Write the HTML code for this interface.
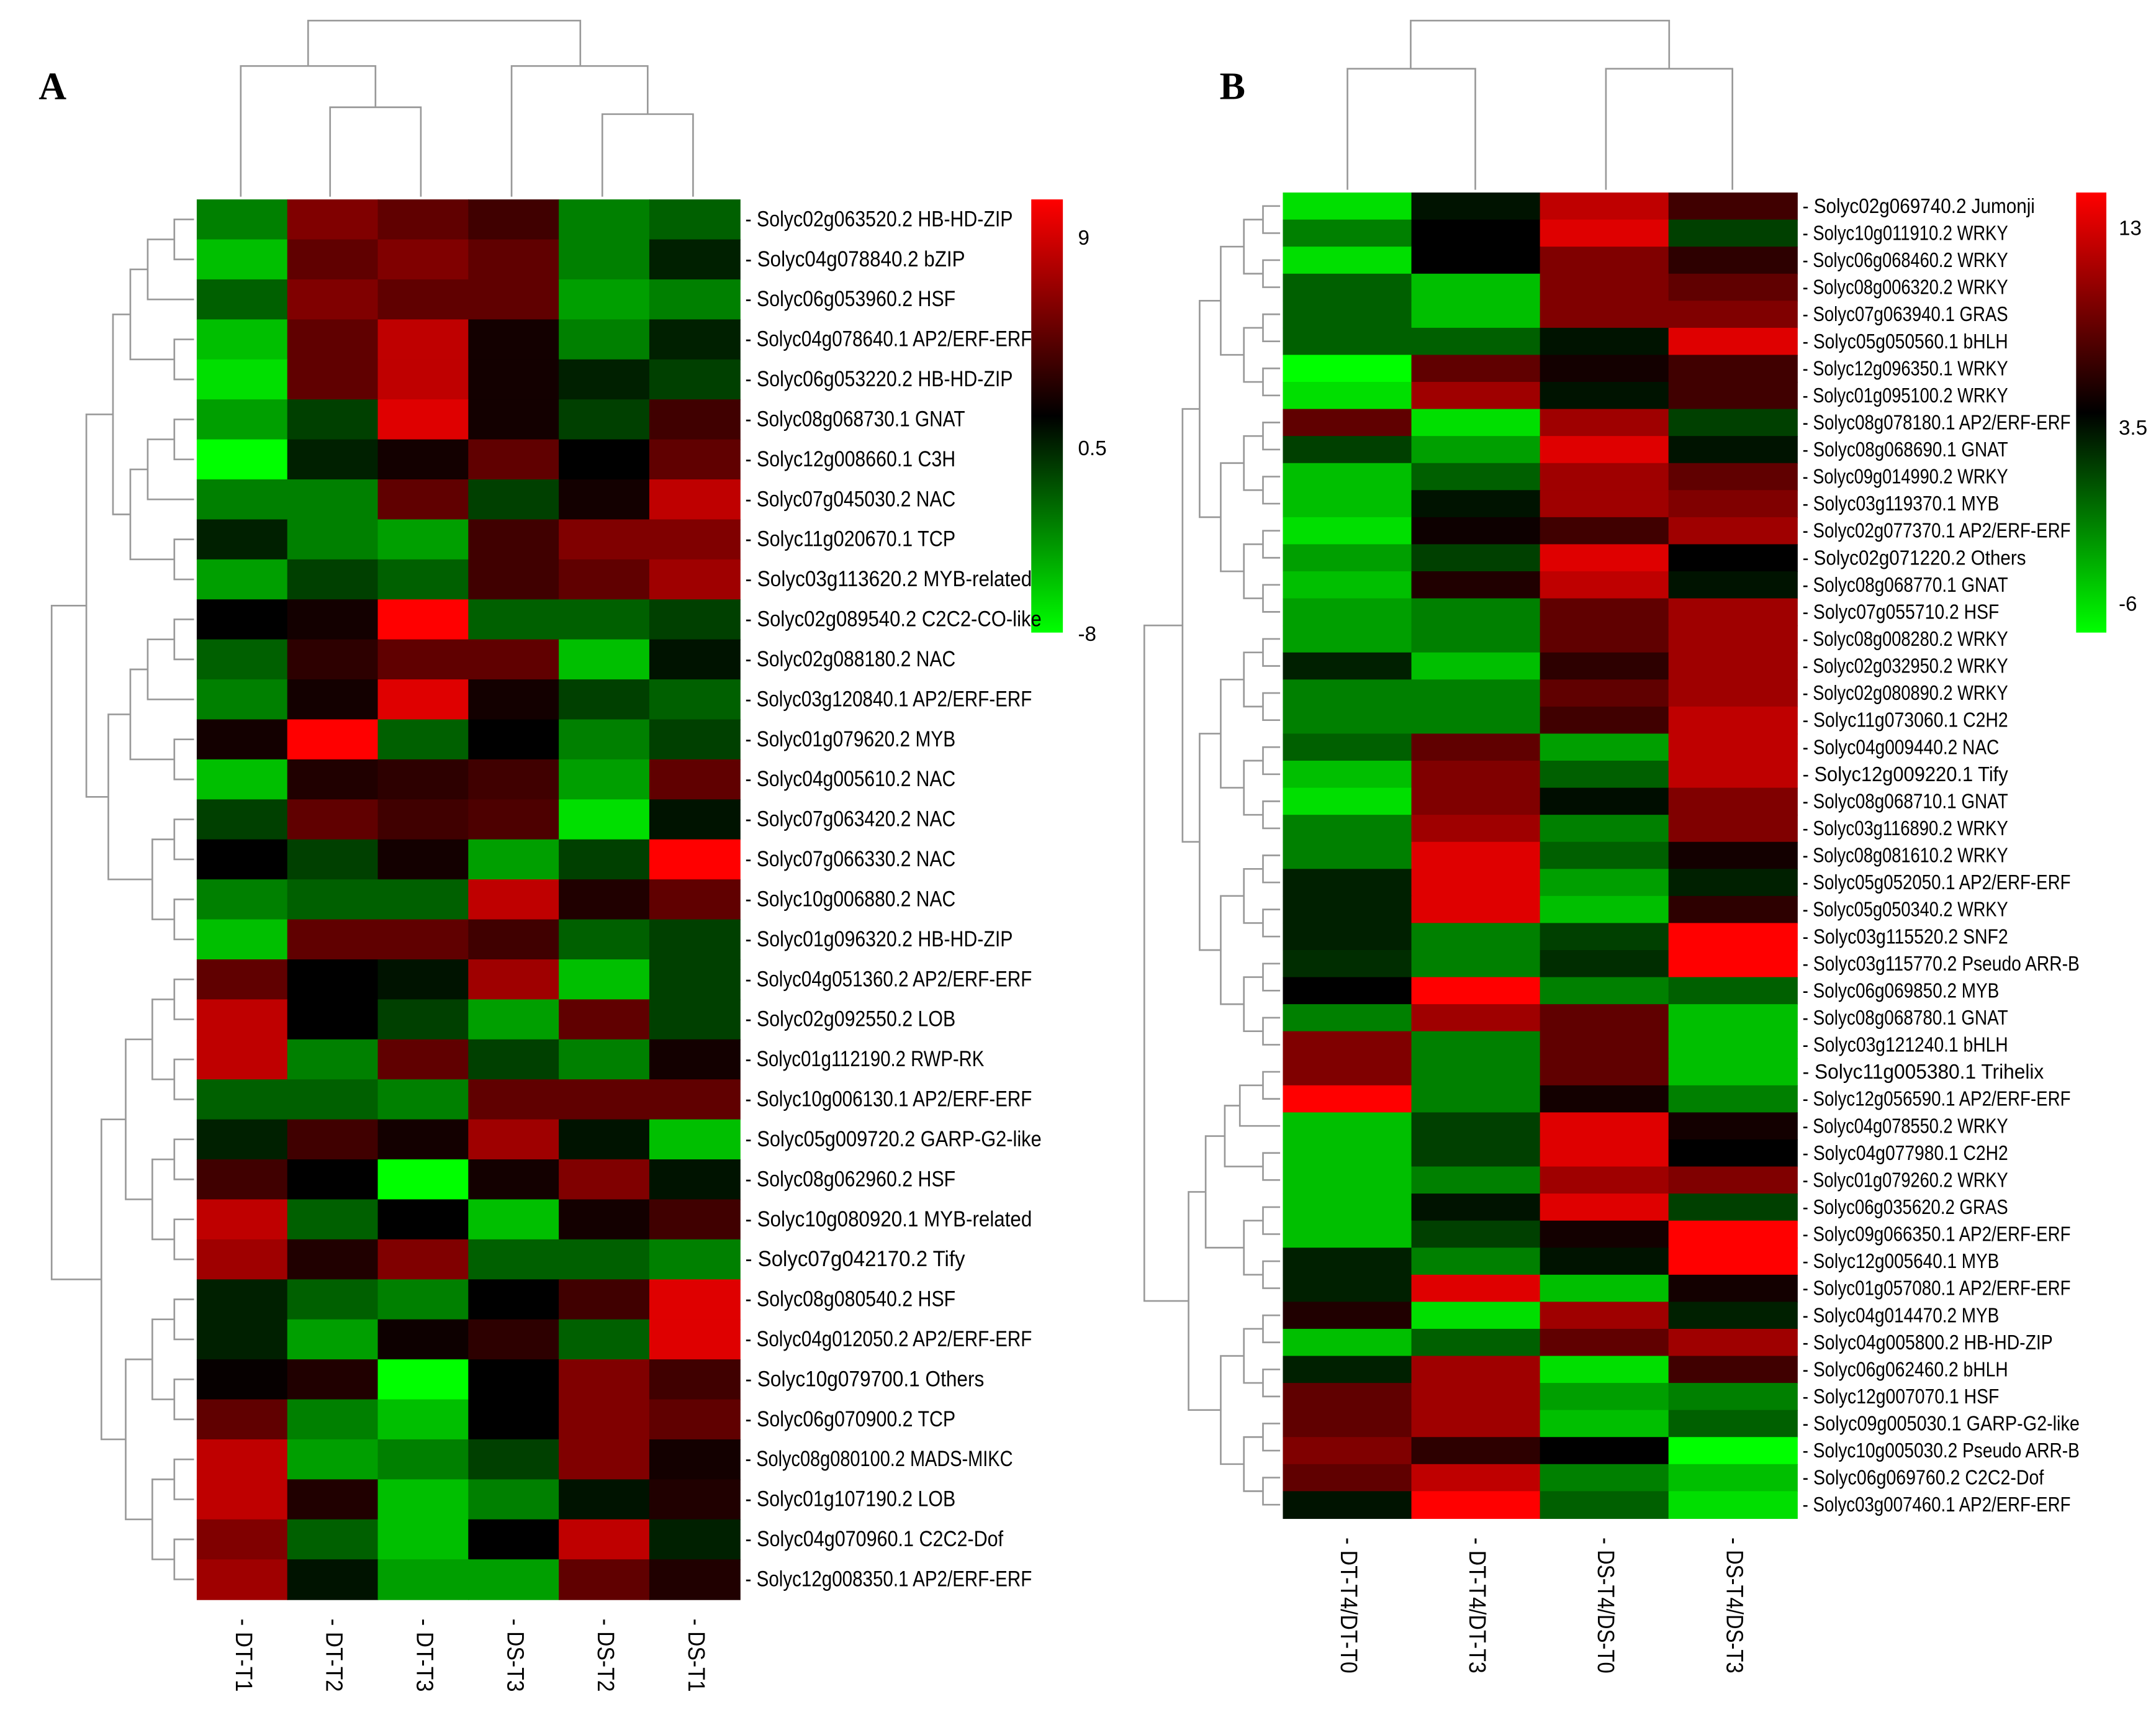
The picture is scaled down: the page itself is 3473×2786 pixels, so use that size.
<!DOCTYPE html>
<html><head><meta charset="utf-8"><style>
html,body{margin:0;padding:0;background:#fff;}
svg{display:block}
text{font-family:"Liberation Sans Narrow","Liberation Sans",sans-serif;}
</style></head><body>
<svg id="fig" xmlns="http://www.w3.org/2000/svg" width="3473" height="2786" viewBox="0 0 1568 1258">
<rect width="1568" height="1258" fill="#fff"/>
<text x="28" y="72" font-weight="bold" font-size="28" style="font-family:'Liberation Serif',serif">A</text>
<text x="887" y="72" font-weight="bold" font-size="28" style="font-family:'Liberation Serif',serif">B</text>
<defs>
<linearGradient id="gA" x1="0" y1="0" x2="0" y2="1"><stop offset="0" stop-color="#ff0000"/><stop offset="0.5" stop-color="#000"/><stop offset="1" stop-color="#00ff00"/></linearGradient>
</defs>
<rect x="750" y="145" width="23" height="315" fill="url(#gA)"/>
<text x="784" y="178" font-size="15">9</text>
<text x="784" y="331" font-size="15">0.5</text>
<text x="784" y="466" font-size="15">-8</text>
<rect x="1510" y="140" width="22" height="320" fill="url(#gA)"/>
<text x="1541" y="171" font-size="15">13</text>
<text x="1541" y="316" font-size="15">3.5</text>
<text x="1541" y="444" font-size="15">-6</text>
<g id="layer"></g>
</svg>
<script>
const colsA=["DT-T1","DT-T2","DT-T3","DS-T3","DS-T2","DS-T1"];
const rowsA=["Solyc02g063520.2 HB-HD-ZIP","Solyc04g078840.2 bZIP","Solyc06g053960.2 HSF","Solyc04g078640.1 AP2/ERF-ERF","Solyc06g053220.2 HB-HD-ZIP","Solyc08g068730.1 GNAT","Solyc12g008660.1 C3H","Solyc07g045030.2 NAC","Solyc11g020670.1 TCP","Solyc03g113620.2 MYB-related","Solyc02g089540.2 C2C2-CO-like","Solyc02g088180.2 NAC","Solyc03g120840.1 AP2/ERF-ERF","Solyc01g079620.2 MYB","Solyc04g005610.2 NAC","Solyc07g063420.2 NAC","Solyc07g066330.2 NAC","Solyc10g006880.2 NAC","Solyc01g096320.2 HB-HD-ZIP","Solyc04g051360.2 AP2/ERF-ERF","Solyc02g092550.2 LOB","Solyc01g112190.2 RWP-RK","Solyc10g006130.1 AP2/ERF-ERF","Solyc05g009720.2 GARP-G2-like","Solyc08g062960.2 HSF","Solyc10g080920.1 MYB-related","Solyc07g042170.2 Tify","Solyc08g080540.2 HSF","Solyc04g012050.2 AP2/ERF-ERF","Solyc10g079700.1 Others","Solyc06g070900.2 TCP","Solyc08g080100.2 MADS-MIKC","Solyc01g107190.2 LOB","Solyc04g070960.1 C2C2-Dof","Solyc12g008350.1 AP2/ERF-ERF"];
const valsA=[[-2,2,1.5,1,-2,-1.5],[-3,1.5,2,1.5,-2,-0.5],[-1.5,2,1.5,1.5,-2.5,-2],[-3,1.5,3,0.3,-2,-0.5],[-3.5,1.5,3,0.3,-0.5,-1],[-2.5,-1,3.5,0.3,-1,1],[-4,-0.5,0.3,1.5,0,1.5],[-2,-2,1.5,-1,0.3,3],[-0.5,-2,-2.5,1,2,2],[-2.5,-1,-1.5,1,1.5,2.5],[0,0.3,4,-1.5,-1.5,-1],[-1.5,0.7,1.5,1.5,-3,-0.3],[-2,0.3,3.5,0.3,-1,-1.5],[0.3,4,-1.5,0,-2,-1],[-3,0.5,0.7,1,-2.5,1.5],[-1,1.5,1,1.2,-3.5,-0.3],[0,-1,0.3,-2.5,-1,4],[-2,-1.5,-1.5,3,0.5,1.5],[-3,1.5,1.5,1,-1.5,-1],[1.5,0,-0.3,2.5,-3,-1],[3,0,-1,-2.5,1.5,-1],[3,-2,1.5,-1,-2,0.3],[-1.5,-1.5,-2,1.5,1.5,1.5],[-0.5,1,0.3,2.5,-0.3,-3],[1,0,-4,0.3,2,-0.3],[3,-1.5,0,-3,0.3,1],[2.5,0.5,2,-1.5,-1.5,-2],[-0.5,-1.5,-2,0,1,3.5],[-0.5,-2.5,0.2,0.7,-1.5,3.5],[0.1,0.5,-4,0,2,1],[1.5,-2,-3,0,2,1.5],[3,-2.5,-2,-1,2,0.3],[3,0.5,-3,-2,-0.3,0.5],[2,-1.5,-3,0,3,-0.5],[2.5,-0.3,-2.5,-2.5,1.5,0.5]];
const colsB=["DT-T4/DT-T0","DT-T4/DT-T3","DS-T4/DS-T0","DS-T4/DS-T3"];
const rowsB=["Solyc02g069740.2 Jumonji","Solyc10g011910.2 WRKY","Solyc06g068460.2 WRKY","Solyc08g006320.2 WRKY","Solyc07g063940.1 GRAS","Solyc05g050560.1 bHLH","Solyc12g096350.1 WRKY","Solyc01g095100.2 WRKY","Solyc08g078180.1 AP2/ERF-ERF","Solyc08g068690.1 GNAT","Solyc09g014990.2 WRKY","Solyc03g119370.1 MYB","Solyc02g077370.1 AP2/ERF-ERF","Solyc02g071220.2 Others","Solyc08g068770.1 GNAT","Solyc07g055710.2 HSF","Solyc08g008280.2 WRKY","Solyc02g032950.2 WRKY","Solyc02g080890.2 WRKY","Solyc11g073060.1 C2H2","Solyc04g009440.2 NAC","Solyc12g009220.1 Tify","Solyc08g068710.1 GNAT","Solyc03g116890.2 WRKY","Solyc08g081610.2 WRKY","Solyc05g052050.1 AP2/ERF-ERF","Solyc05g050340.2 WRKY","Solyc03g115520.2 SNF2","Solyc03g115770.2 Pseudo ARR-B","Solyc06g069850.2 MYB","Solyc08g068780.1 GNAT","Solyc03g121240.1 bHLH","Solyc11g005380.1 Trihelix","Solyc12g056590.1 AP2/ERF-ERF","Solyc04g078550.2 WRKY","Solyc04g077980.1 C2H2","Solyc01g079260.2 WRKY","Solyc06g035620.2 GRAS","Solyc09g066350.1 AP2/ERF-ERF","Solyc12g005640.1 MYB","Solyc01g057080.1 AP2/ERF-ERF","Solyc04g014470.2 MYB","Solyc04g005800.2 HB-HD-ZIP","Solyc06g062460.2 bHLH","Solyc12g007070.1 HSF","Solyc09g005030.1 GARP-G2-like","Solyc10g005030.2 Pseudo ARR-B","Solyc06g069760.2 C2C2-Dof","Solyc03g007460.1 AP2/ERF-ERF"];
const valsB=[[-3.5,-0.3,3,1],[-2,0,3.5,-1],[-3.5,0,2,0.7],[-1.5,-3,2,1.5],[-1.5,-3,2,2],[-1.5,-1.5,-0.3,3.5],[-4,1.5,0.3,1],[-3.5,2.5,-0.3,1],[1.5,-3.5,2.5,-1],[-1,-2.5,3.5,-0.3],[-3,-1.5,2.5,1.5],[-3,-0.3,2.5,2],[-3.5,0.2,1,2.5],[-2.5,-1,3.5,0],[-3,0.5,3,-0.3],[-2.5,-2,1.5,2.5],[-2.5,-2,1.5,2.5],[-0.5,-3,0.7,2.5],[-2,-2,1.5,2.5],[-2,-2,1,3],[-1.5,1.5,-2.5,3],[-3,2,-1.5,3],[-3.5,2,-0.2,2],[-2,2.5,-2,2],[-2,3.5,-1.5,0.3],[-0.5,3.5,-2.5,-0.5],[-0.5,3.5,-3,0.7],[-0.5,-2,-1,4],[-0.7,-2,-0.7,4],[0,4,-2,-1.5],[-2,2.5,1.5,-3],[2,-2,1.5,-3],[2,-2,1.5,-3],[4,-2,0.3,-2],[-3,-1,3.5,0.3],[-3,-1,3.5,0],[-3,-2,2.5,2],[-3,-0.3,3.5,-1],[-3,-1,0.3,4],[-0.5,-2,-0.3,4],[-0.5,3.5,-3,0.3],[0.5,-3.5,2.5,-0.5],[-3,-1.5,1.5,2.5],[-0.5,2.5,-3.5,1],[1.5,2.5,-2.5,-2],[1.5,2.5,-3,-1.5],[2,0.7,0,-4],[1.5,3,-2,-3],[-0.3,4,-1.5,-3.5]];

const NS="http://www.w3.org/2000/svg";
const layer=document.getElementById('layer');
function mk(tag,attrs){const e=document.createElementNS(NS,tag);for(const k in attrs)e.setAttribute(k,attrs[k]);layer.appendChild(e);return e;}
function color(v){const t=Math.max(-1,Math.min(1,v/4));return t>=0?`rgb(${Math.round(255*t)},0,0)`:`rgb(0,${Math.round(-255*t)},0)`;}

function heat(cfg,rows,cols,vals,prefix){
  const cw=(cfg.x1-cfg.x0)/cols.length, rh=(cfg.y1-cfg.y0)/rows.length;
  const xs=i=>cfg.x0+i*cw, ys=j=>cfg.y0+j*rh;
  vals.forEach((r,j)=>r.forEach((v,i)=>{
    const c=mk('rect',{x:xs(i),y:ys(j),width:cw+0.5,height:rh+0.5,fill:color(v)});
    
    
  }));
  rows.forEach((n,j)=>{
    const s='- '+n;
    const t=mk('text',{x:cfg.x1+4,y:ys(j)+rh/2+5,'font-size':cfg.fs,textLength:s.length*cfg.cwid,lengthAdjust:'spacingAndGlyphs'});
    t.textContent=s;
    
    
  });
  cols.forEach((n,i)=>{
    const cx=xs(i)+cw/2, cy=cfg.y1+14;
    const s='- '+n;
    const t=mk('text',{x:cx,y:cy,'font-size':17,transform:`rotate(90 ${cx} ${cy})`,'dominant-baseline':'middle',textLength:s.length*7.6,lengthAdjust:'spacingAndGlyphs'});
    t.textContent=s;
    
    
  });
  function rowTree(a,b,depth){
    if(b-a===1) return {y:ys(a)+rh/2,x:cfg.x0-2};
    const m=a+Math.ceil((b-a)/2)-(depth===0?cfg.rootShift:0);
    const L=rowTree(a,m,depth+1),R=rowTree(m,b,depth+1);
    const x=Math.min(L.x,R.x)-(cfg.x0-cfg.dx)/(Math.log2(rows.length)+1)*(depth===0?2:1)*(0.6+0.4*((a*7+b*3)%5)/5);
    const p=mk('path',{d:`M${L.x},${L.y}H${x}V${R.y}H${R.x}`,fill:'none',stroke:'#999','stroke-width':1.2});
    
    
    return {x:x,y:(L.y+R.y)/2};
  }
  rowTree(0,rows.length,0);
}
heat({x0:143,x1:538,y0:145,y1:1163,fs:16,cwid:6.95,dx:14,rootShift:-1},rowsA,colsA,valsA,'heatmap-a');
heat({x0:933,x1:1307,y0:140,y1:1104,fs:15,cwid:6.5,dx:812,rootShift:-7},rowsB,colsB,valsB,'heatmap-b');

function cpath(d,name){const p=mk('path',{d:d,fill:'none',stroke:'#999','stroke-width':1.2});}
cpath('M240,143V78H306V143 M273,78V48H175V143 M438,143V83H504V143 M471,83V48H372V143 M224,48V15H422V48','col-dendrogram-a');
cpath('M980,138V50H1073V138 M1168,138V50H1260V138 M1026,50V15H1214V50','col-dendrogram-b');
</script>
</body></html>
